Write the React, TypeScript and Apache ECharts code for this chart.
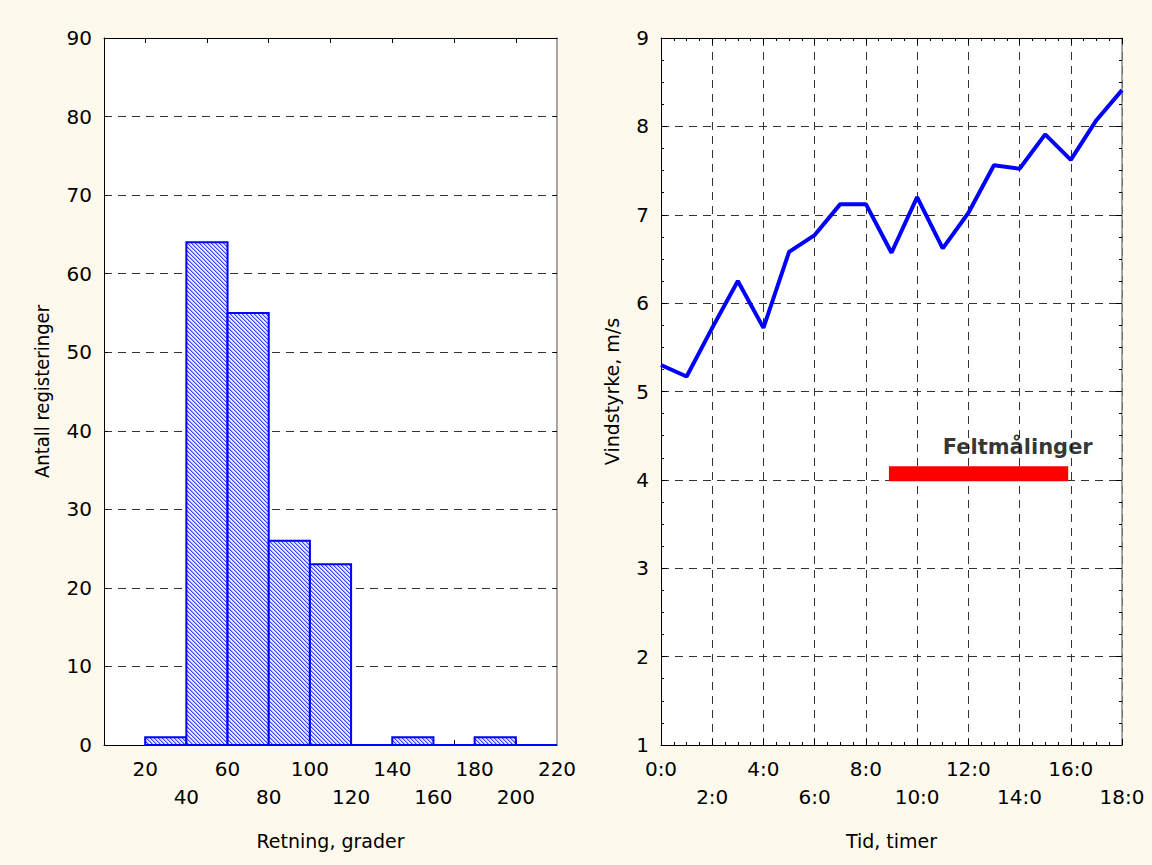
import React, { useEffect, useRef } from "react";
import * as echarts from "echarts";

// Histogram (left)
const binStarts = [20, 40, 60, 80, 100, 120, 140, 160, 180, 200];
const binWidth = 20;
const binCounts = [1, 64, 55, 26, 23, 0, 1, 0, 1, 0];
const histTopTicks = [20, 50, 80, 110, 140, 170, 200];

// Wind speed (right)
const hours = [0, 1, 2, 3, 4, 5, 6, 7, 8, 9, 10, 11, 12, 13, 14, 15, 16, 17, 18];
const windSpeed = [5.3, 5.17, 5.72, 6.25, 5.72, 6.58, 6.77, 7.12, 7.12, 6.57, 7.2, 6.62, 7.02, 7.56, 7.52, 7.91, 7.62, 8.07, 8.41];
const fieldStart = 8.9;
const fieldEnd = 15.9;
const fieldLevel = 4.07;
const fieldLabel = "Feltmålinger";
const fieldLabelPos = [11.0, 4.37];

const FONT = "'DejaVu Sans', sans-serif";
const NARROW = "'Liberation Sans Narrow', 'DejaVu Sans Condensed', sans-serif";

export default function App() {
  const ref = useRef<HTMLDivElement>(null);
  useEffect(() => {
    if (!ref.current) return;
    const chart = echarts.init(ref.current, undefined, { renderer: "svg" });

    const cv = document.createElement("canvas");
    cv.width = 4;
    cv.height = 4;
    const ctx = cv.getContext("2d")!;
    ctx.fillStyle = "#e8eaff";
    ctx.fillRect(0, 0, 4, 4);
    ctx.fillStyle = "#3344ff";
    for (let i = 0; i < 4; i++) ctx.fillRect(i, i, 1, 1);
    ctx.fillStyle = "#a0a8ff";
    for (let i = 0; i < 4; i++) ctx.fillRect((i + 1) % 4, i, 1, 1);
    const pattern: any = { image: cv, repeat: "repeat" };

    const histData = binStarts.map((s, i) => [s, s + binWidth, binCounts[i]]);
    const windData = hours.map((h, i) => [h, windSpeed[i]]);

    const dash = { color: "#333", type: [8, 6] as any, width: 1 };
    const labelStyle = { fontFamily: FONT, fontSize: 20, color: "#000" };
    const nameStyle = { fontFamily: FONT, fontSize: 19, color: "#000" };
    const blackLine = { show: true, onZero: false, lineStyle: { color: "#000", width: 1 } };
    const greyLine = { show: true, onZero: false, lineStyle: { color: "#888", width: 1.5 } };

    const option: any = {
      animation: false,
      backgroundColor: "#fef9ed",
      grid: [
        { left: 104, top: 38, width: 453, height: 707, show: true, backgroundColor: "#fff", borderWidth: 0 },
        { left: 661, top: 38, width: 461, height: 707, show: true, backgroundColor: "#fff", borderWidth: 0 },
      ],
      xAxis: [
        {
          gridIndex: 0, type: "value", position: "bottom", min: 0, max: 220, interval: 20,
          axisLine: blackLine,
          axisTick: { show: true, inside: true, length: 5, customValues: histTopTicks, lineStyle: { color: "#000" } },
          axisLabel: {
            ...labelStyle, margin: 10, lineHeight: 28,
            formatter: (v: number) => (v === 0 ? "" : (v / 20) % 2 === 1 ? String(v) : "\n" + v),
          },
          splitLine: { show: false },
          name: "Retning, grader", nameLocation: "middle", nameGap: 86,
          nameTextStyle: nameStyle,
        },
        {
          gridIndex: 0, type: "value", position: "top", min: 0, max: 220, interval: 20,
          axisLine: blackLine,
          axisTick: { show: true, inside: true, length: 5, customValues: histTopTicks, lineStyle: { color: "#000" } },
          axisLabel: { show: false },
          splitLine: { show: false },
        },
        {
          gridIndex: 1, type: "value", position: "bottom", min: 0, max: 18, interval: 2,
          axisLine: blackLine,
          axisTick: { show: true, inside: true, length: 6, lineStyle: { color: "#000" } },
          minorTick: { show: true, splitNumber: 4, length: 3, lineStyle: { color: "#000" } },
          axisLabel: {
            ...labelStyle, margin: 10, lineHeight: 28,
            formatter: (v: number) => ((v / 2) % 2 === 0 ? v + ":0" : "\n" + v + ":0"),
          },
          splitLine: { show: true, lineStyle: dash },
          name: "Tid, timer", nameLocation: "middle", nameGap: 86,
          nameTextStyle: nameStyle,
        },
        {
          gridIndex: 1, type: "value", position: "top", min: 0, max: 18, interval: 2,
          axisLine: blackLine,
          axisTick: { show: true, inside: true, length: 6, lineStyle: { color: "#000" } },
          minorTick: { show: true, splitNumber: 4, length: 3, lineStyle: { color: "#000" } },
          axisLabel: { show: false },
          splitLine: { show: false },
        },
      ],
      yAxis: [
        {
          gridIndex: 0, type: "value", position: "left", min: 0, max: 90, interval: 10,
          axisLine: blackLine,
          axisTick: { show: true, inside: true, length: 4, lineStyle: { color: "#000" } },
          axisLabel: { ...labelStyle, margin: 12 },
          splitLine: { show: true, lineStyle: dash },
          name: "Antall registeringer", nameLocation: "middle", nameGap: 52,
          nameTextStyle: { fontFamily: NARROW, fontSize: 20, color: "#000", padding: [0, 0, 0, 0] },
        },
        {
          gridIndex: 0, type: "value", position: "right", min: 0, max: 90, interval: 10,
          axisLine: greyLine,
          axisTick: { show: true, inside: true, length: 4, lineStyle: { color: "#000" } },
          axisLabel: { show: false },
          splitLine: { show: false },
        },
        {
          gridIndex: 1, type: "value", position: "left", min: 1, max: 9, interval: 1,
          axisLine: blackLine,
          axisTick: { show: true, inside: true, length: 6, lineStyle: { color: "#000" } },
          minorTick: { show: true, splitNumber: 4, length: 3, lineStyle: { color: "#000" } },
          axisLabel: { ...labelStyle, margin: 12 },
          splitLine: { show: true, lineStyle: dash },
          name: "Vindstyrke, m/s", nameLocation: "middle", nameGap: 40,
          nameTextStyle: nameStyle,
        },
        {
          gridIndex: 1, type: "value", position: "right", min: 1, max: 9, interval: 1,
          axisLine: greyLine,
          axisTick: { show: true, inside: true, length: 6, lineStyle: { color: "#000" } },
          minorTick: { show: true, splitNumber: 4, length: 3, lineStyle: { color: "#000" } },
          axisLabel: { show: false },
          splitLine: { show: false },
        },
      ],
      series: [
        {
          type: "custom",
          xAxisIndex: 0,
          yAxisIndex: 0,
          encode: { x: [0, 1], y: 2 },
          data: histData,
          z: 5,
          renderItem: (params: any, api: any) => {
            const x0 = api.value(0);
            const x1 = api.value(1);
            const c = api.value(2);
            const p0 = api.coord([x0, c]);
            const p1 = api.coord([x1, 0]);
            return {
              type: "rect",
              shape: { x: p0[0], y: p0[1], width: p1[0] - p0[0], height: p1[1] - p0[1] },
              style: { fill: pattern, stroke: "#0000ff", lineWidth: 2 },
            };
          },
        },
        {
          type: "line",
          xAxisIndex: 2,
          yAxisIndex: 2,
          data: windData,
          symbol: "none",
          lineStyle: { color: "#0000ff", width: 4 },
          z: 5,
        },
        {
          type: "line",
          xAxisIndex: 2,
          yAxisIndex: 2,
          data: [[fieldStart, fieldLevel], [fieldEnd, fieldLevel]],
          symbol: "none",
          lineStyle: { color: "#ff0000", width: 15, cap: "butt" },
          z: 4,
        },
        {
          type: "scatter",
          xAxisIndex: 2,
          yAxisIndex: 2,
          data: [fieldLabelPos],
          symbolSize: 0,
          label: {
            show: true, position: "right", distance: 0, formatter: fieldLabel,
            fontFamily: FONT, fontWeight: "bold", fontSize: 21, color: "#000",
          },
          z: 6,
        },
      ],
    };
    chart.setOption(option);
    return () => chart.dispose();
  }, []);
  return (
    <div
      ref={ref}
      style={{ position: "fixed", left: 0, top: 0, width: 1152, height: 865 }}
    />
  );
}
